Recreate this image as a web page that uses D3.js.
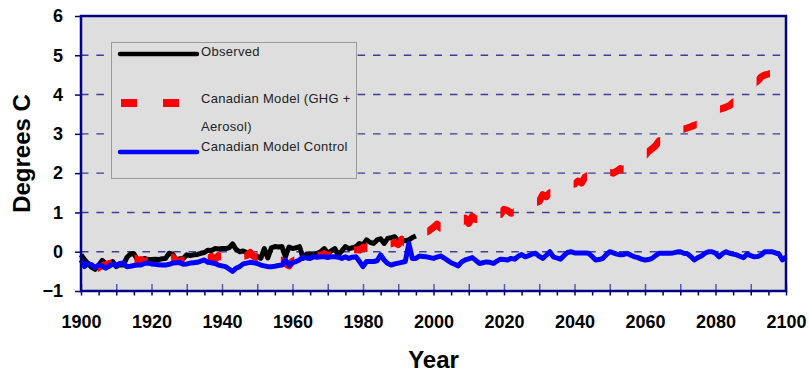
<!DOCTYPE html>
<html lang="en">
<head>
<meta charset="UTF-8">
<title>Degrees C</title>
<script src="https://cdn.jsdelivr.net/npm/d3@7"></script>
<style>
  body { margin: 0; background: #fff; }
  text { font-family: "Liberation Sans", Arial, sans-serif; }
</style>
</head>
<body>
<script>
// data (one value per year)
var firstYear = 1900;
var observed = [
  -0.08,-0.2,-0.3,-0.4,-0.45,-0.35,-0.22,-0.3,-0.37,-0.25,
  -0.38,-0.33,-0.34,-0.15,-0.06,-0.05,-0.2,-0.22,-0.17,-0.2,
  -0.2,-0.19,-0.2,-0.18,-0.17,-0.04,-0.06,-0.21,-0.18,-0.17,
  -0.08,-0.1,-0.08,-0.07,-0.04,-0.02,0.04,0.03,0.08,0.07,
  0.08,0.08,0.1,0.2,0.06,0.0,0.02,-0.02,-0.05,-0.1,
  -0.12,-0.17,0.08,-0.16,0.1,0.13,0.12,0.13,-0.13,0.12,
  0.08,0.1,0.13,-0.17,-0.06,-0.05,-0.09,-0.04,0.0,0.08,
  -0.04,0.02,0.08,-0.08,0.02,0.13,0.08,0.1,0.13,0.21,
  0.17,0.3,0.24,0.21,0.3,0.33,0.21,0.34,0.36,0.38,
  0.27,0.3,0.28,0.3,0.36,0.4
];
var ghgAerosol = [
  -0.3,-0.35,-0.38,-0.42,-0.46,-0.4,-0.36,-0.33,-0.3,-0.28,
  -0.3,-0.27,-0.25,-0.24,-0.28,-0.15,-0.22,-0.2,-0.25,-0.22,
  -0.24,-0.2,-0.22,-0.19,-0.23,-0.2,-0.14,-0.22,-0.26,-0.21,
  -0.2,-0.22,-0.18,-0.2,-0.17,-0.22,-0.18,-0.12,-0.2,-0.1,
  -0.14,-0.15,-0.12,-0.16,-0.13,-0.15,-0.12,-0.1,-0.02,-0.12,
  -0.15,-0.05,-0.1,-0.13,-0.15,-0.18,-0.2,-0.22,-0.3,-0.36,
  -0.24,-0.2,-0.15,-0.12,-0.1,-0.12,-0.1,-0.08,-0.1,-0.05,
  -0.12,-0.07,-0.1,-0.05,0.0,0.02,0.0,0.05,0.05,0.04,
  0.12,0.08,0.2,0.15,0.18,0.2,0.17,0.22,0.2,0.24,
  0.18,0.32,0.22,0.3,0.35,0.38,0.42,0.48,0.5,0.55,
  0.62,0.7,0.6,0.72,0.68,0.72,0.75,0.7,0.74,0.85,
  0.72,0.9,0.82,0.86,0.9,0.88,0.92,0.95,0.98,0.95,
  1.08,1.05,0.98,1.0,1.1,1.12,1.15,1.18,1.22,1.25,
  1.28,1.45,1.4,1.5,1.52,1.55,1.6,1.62,1.68,1.7,
  1.72,1.8,1.75,1.9,1.95,1.95,1.98,2.0,2.05,2.0,
  2.02,2.0,2.05,2.12,2.08,2.18,2.2,2.25,2.3,2.38,
  2.45,2.55,2.62,2.7,2.82,2.85,2.9,2.95,3.0,3.05,
  3.1,3.12,3.15,3.18,3.22,3.25,3.3,3.35,3.42,3.5,
  3.58,3.62,3.65,3.68,3.72,3.8,3.85,3.9,3.98,4.05,
  4.15,4.28,4.35,4.45,4.5,4.52,4.55,4.6,4.62,4.65,
  4.7
];
var control = [
  -0.21,-0.38,-0.3,-0.33,-0.4,-0.34,-0.36,-0.42,-0.36,-0.32,
  -0.35,-0.3,-0.29,-0.38,-0.37,-0.35,-0.34,-0.34,-0.3,-0.29,
  -0.31,-0.32,-0.33,-0.34,-0.34,-0.32,-0.29,-0.28,-0.27,-0.32,
  -0.31,-0.29,-0.28,-0.27,-0.24,-0.21,-0.27,-0.28,-0.3,-0.34,
  -0.36,-0.38,-0.44,-0.5,-0.42,-0.38,-0.31,-0.29,-0.27,-0.28,
  -0.3,-0.34,-0.36,-0.38,-0.38,-0.37,-0.35,-0.34,-0.21,-0.34,
  -0.28,-0.25,-0.21,-0.13,-0.16,-0.17,-0.13,-0.14,-0.13,-0.13,
  -0.14,-0.13,-0.13,-0.14,-0.17,-0.13,-0.17,-0.14,-0.13,-0.25,
  -0.38,-0.25,-0.25,-0.25,-0.23,-0.08,-0.21,-0.3,-0.34,-0.31,
  -0.29,-0.27,-0.25,0.21,-0.17,-0.17,-0.11,-0.12,-0.13,-0.15,
  -0.17,-0.14,-0.11,-0.16,-0.22,-0.28,-0.32,-0.36,-0.26,-0.21,
  -0.18,-0.15,-0.22,-0.3,-0.28,-0.26,-0.27,-0.3,-0.24,-0.19,
  -0.2,-0.21,-0.17,-0.19,-0.12,-0.07,-0.13,-0.1,-0.06,-0.04,
  -0.12,-0.17,-0.09,0.0,-0.13,-0.16,-0.19,-0.1,-0.02,0.0,
  -0.03,-0.03,-0.03,-0.03,-0.04,-0.12,-0.21,-0.2,-0.17,-0.08,
  0.0,-0.03,-0.06,-0.08,-0.07,-0.04,-0.09,-0.13,-0.15,-0.19,
  -0.21,-0.2,-0.17,-0.1,-0.04,-0.04,-0.04,-0.04,-0.03,-0.01,
  0.0,-0.04,-0.05,-0.12,-0.21,-0.15,-0.11,-0.04,0.0,0.0,
  -0.04,-0.13,-0.05,0.0,-0.04,-0.06,-0.08,-0.12,-0.15,-0.06,
  -0.1,-0.13,-0.12,-0.08,0.0,0.0,0.0,-0.03,-0.06,-0.21,
  -0.13
];
var yTicks = [-1, 0, 1, 2, 3, 4, 5, 6];
var gridValues = [0, 1, 2, 3, 4, 5];
var xTicks = [1900, 1920, 1940, 1960, 1980, 2000, 2020, 2040, 2060, 2080, 2100];
var legendNames = ["Observed", "Canadian Model (GHG +", "Aerosol)", "Canadian Model Control"];

var width = 809, height = 373;
var plotL = 81, plotR = 786, plotT = 16, plotB = 291;

var svg = d3.select("body").append("svg")
    .attr("width", width)
    .attr("height", height);

var x = d3.scaleLinear().domain([1900, 2100]).range([plotL, plotR]);
var y = d3.scaleLinear().domain([-1, 6]).range([plotB, plotT]);

// plot background
svg.append("rect")
    .attr("x", plotL).attr("y", plotT)
    .attr("width", plotR - plotL).attr("height", plotB - plotT)
    .attr("fill", "#dedede");

// dashed grid lines
svg.selectAll(".grid").data(gridValues).enter().append("line")
    .attr("x1", plotL).attr("x2", plotR)
    .attr("y1", function(d){ return y(d); })
    .attr("y2", function(d){ return y(d); })
    .attr("stroke", "#3c3c9c")
    .attr("stroke-width", 1.4)
    .attr("stroke-dasharray", "7.5,7.87");

// x axis: small ticks every 5 years outside, taller ones every 10 inside
var ax1 = svg.append("g").attr("transform", "translate(0," + plotB + ")")
    .call(d3.axisBottom(x).tickValues(d3.range(1900, 2101, 5)).tickSize(4.5).tickFormat(""));
var ax2 = svg.append("g").attr("transform", "translate(0," + plotB + ")")
    .call(d3.axisBottom(x).tickValues(d3.range(1900, 2101, 10)).tickSize(-7).tickFormat(""));
[ax1, ax2].forEach(function(a){
    a.select(".domain").remove();
    a.selectAll("line").attr("stroke-width", 1.5);
});
ax1.selectAll("line").attr("stroke", "#000080");
ax2.selectAll("line").attr("stroke", "#5a5aae");

var axLab = svg.append("g").attr("transform", "translate(0," + plotB + ")")
    .call(d3.axisBottom(x).tickValues(xTicks).tickSize(0).tickFormat(d3.format("d")));
axLab.select(".domain").remove();
axLab.selectAll("text")
    .attr("y", 37).attr("dy", 0)
    .attr("fill", "#000")
    .style("font-size", "18px").style("font-weight", "bold");

// y axis
var ay = svg.append("g").attr("transform", "translate(" + plotL + ",0)")
    .call(d3.axisLeft(y).tickValues(yTicks).tickSize(6).tickPadding(12).tickFormat(d3.format("d")));
ay.select(".domain").remove();
ay.selectAll("line").attr("stroke", "#000080").attr("stroke-width", 1.5);
ay.selectAll("text")
    .attr("fill", "#000")
    .style("font-size", "18px").style("font-weight", "bold");

// series
var line = d3.line()
    .x(function(d, i){ return x(firstYear + i); })
    .y(function(d){ return y(d); });

svg.append("path").datum(observed)
    .attr("d", line)
    .attr("fill", "none")
    .attr("stroke", "#000")
    .attr("stroke-width", 5)
    .attr("stroke-linejoin", "round");

// long dash pattern of the model line, laid out along the years
var dashPeriod = 10.38, dashLen = 3.8, dashFirst = 1904.8;
var clip = svg.append("clipPath").attr("id", "dashes");
clip.selectAll("rect").data(d3.range(dashFirst, 2100, dashPeriod)).enter().append("rect")
    .attr("x", function(d){ return x(d); })
    .attr("y", 0)
    .attr("width", function(d){ return x(d + dashLen) - x(d); })
    .attr("height", height);

svg.append("path").datum(ghgAerosol)
    .attr("d", line)
    .attr("fill", "none")
    .attr("stroke", "#ff0000")
    .attr("stroke-width", 7)
    .attr("stroke-linejoin", "round")
    .attr("clip-path", "url(#dashes)");

svg.append("path").datum(control)
    .attr("d", line)
    .attr("fill", "none")
    .attr("stroke", "#0000ff")
    .attr("stroke-width", 5)
    .attr("stroke-linejoin", "round");

// frame
svg.append("rect")
    .attr("x", plotL).attr("y", plotT)
    .attr("width", plotR - plotL).attr("height", plotB - plotT)
    .attr("fill", "none")
    .attr("stroke", "#000080")
    .attr("stroke-width", 2.5);

// legend
var lg = svg.append("g");
lg.append("rect")
    .attr("x", 111.5).attr("y", 42.5)
    .attr("width", 245).attr("height", 136)
    .attr("fill", "#dedede")
    .attr("stroke", "#9a9a9a");

lg.append("line").attr("x1", 120).attr("x2", 197).attr("y1", 54).attr("y2", 54)
    .attr("stroke", "#000").attr("stroke-width", 4.5).attr("stroke-linecap", "round");
lg.append("line").attr("x1", 121).attr("x2", 179).attr("y1", 103).attr("y2", 103)
    .attr("stroke", "#ff0000").attr("stroke-width", 8).attr("stroke-dasharray", "16,26");
lg.append("line").attr("x1", 120).attr("x2", 197).attr("y1", 152).attr("y2", 152)
    .attr("stroke", "#0000ff").attr("stroke-width", 4.5).attr("stroke-linecap", "round");

var legendY = [56, 103, 131, 151];
lg.selectAll(".lt").data(legendNames).enter().append("text")
    .attr("x", 201)
    .attr("y", function(d, i){ return legendY[i]; })
    .attr("fill", "#222")
    .style("font-size", "13px")
    .style("letter-spacing", "0.3px")
    .text(function(d){ return d; });

// axis titles
svg.append("text")
    .attr("x", (plotL + plotR) / 2).attr("y", 368)
    .attr("text-anchor", "middle")
    .style("font-size", "24px").style("font-weight", "bold")
    .text("Year");

svg.append("text")
    .attr("transform", "translate(30," + ((plotT + plotB) / 2) + ") rotate(-90)")
    .attr("text-anchor", "middle")
    .style("font-size", "24px").style("font-weight", "bold")
    .text("Degrees C");
</script>
</body>
</html>
